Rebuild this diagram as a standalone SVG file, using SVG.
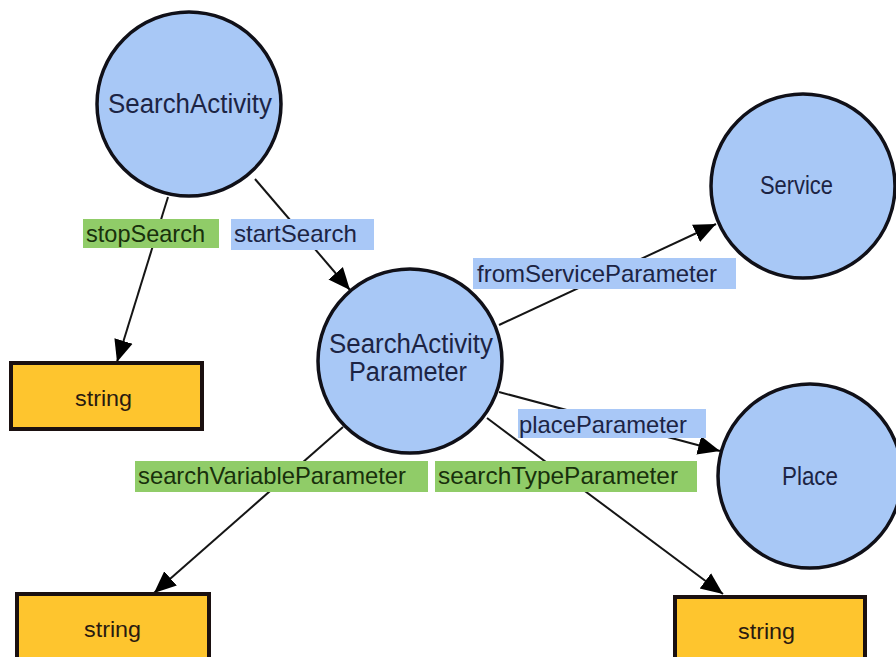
<svg xmlns="http://www.w3.org/2000/svg" width="896" height="657" viewBox="0 0 896 657">
  <style>
    .cls { fill: #a8c8f6; stroke: #101018; stroke-width: 3.5; }
    .lit { fill: #fec52e; stroke: #1a1010; stroke-width: 4; }
    .edge { stroke: #151515; stroke-width: 2; fill: none; marker-end: url(#arrow); }
    .obj { fill: #a9c8f7; }
    .dat { fill: #90cc68; }
    text { font-family: "Liberation Sans", Arial, sans-serif; }
    .ntext { font-size: 25px; fill: #1c2444; }
    .big { font-size: 27px; }
    .stext { font-size: 22px; fill: #2a1a10; }
    .otext { font-size: 24px; fill: #1c2444; }
    .dtext { font-size: 24px; fill: #18300c; }
  </style>
  <defs>
    <marker id="arrow" markerUnits="userSpaceOnUse" markerWidth="24" markerHeight="22" viewBox="0 0 24 22" refX="22" refY="11" orient="auto">
      <path d="M0,1.5 L22,11 L0,20.5 Z" fill="#000"/>
    </marker>
  </defs>
  <rect width="896" height="657" fill="#fff"/>

  <!-- property edges -->
  <g id="connectors">
    <g id="e-stopSearch">
      <line class="edge" x1="168" y1="197" x2="117" y2="362"/>
      <rect class="dat" x="83" y="219" width="136" height="29"/>
      <text class="dtext" x="86" y="242" textLength="119" lengthAdjust="spacingAndGlyphs">stopSearch</text>
    </g>
    <g id="e-startSearch">
      <line class="edge" x1="255" y1="179" x2="350" y2="290"/>
      <rect class="obj" x="231" y="219" width="143" height="31"/>
      <text class="otext" x="234" y="242" textLength="123" lengthAdjust="spacingAndGlyphs">startSearch</text>
    </g>
    <g id="e-fromServiceParameter">
      <line class="edge" x1="499" y1="325" x2="716" y2="224"/>
      <rect class="obj" x="473" y="258" width="263" height="31"/>
      <text class="otext" x="477" y="282" textLength="240" lengthAdjust="spacingAndGlyphs">fromServiceParameter</text>
    </g>
    <g id="e-placeParameter">
      <line class="edge" x1="499" y1="392" x2="720" y2="451"/>
      <rect class="obj" x="518" y="409" width="188" height="29"/>
      <text class="otext" x="519" y="433" textLength="168" lengthAdjust="spacingAndGlyphs">placeParameter</text>
    </g>
    <g id="e-searchTypeParameter">
      <line class="edge" x1="487" y1="418" x2="723" y2="594"/>
      <rect class="dat" x="435" y="461" width="262" height="31"/>
      <text class="dtext" x="438" y="484" textLength="240" lengthAdjust="spacingAndGlyphs">searchTypeParameter</text>
    </g>
    <g id="e-searchVariableParameter">
      <line class="edge" x1="343" y1="427" x2="154" y2="593"/>
      <rect class="dat" x="135" y="461" width="293" height="31"/>
      <text class="dtext" x="138" y="484" textLength="268" lengthAdjust="spacingAndGlyphs">searchVariableParameter</text>
    </g>
  </g>

  <!-- class nodes -->
  <g id="SearchActivity">
    <circle class="cls" cx="189" cy="104" r="92"/>
    <text class="ntext big" x="108" y="113" textLength="164" lengthAdjust="spacingAndGlyphs">SearchActivity</text>
  </g>
  <g id="SearchActivityParameter">
    <circle class="cls" cx="410" cy="361" r="92"/>
    <text class="ntext big" x="329" y="353" textLength="164" lengthAdjust="spacingAndGlyphs">SearchActivity</text>
    <text class="ntext big" x="349" y="381" textLength="118" lengthAdjust="spacingAndGlyphs">Parameter</text>
  </g>
  <g id="Service">
    <circle class="cls" cx="803" cy="186" r="92"/>
    <text class="ntext" x="760" y="194" textLength="73" lengthAdjust="spacingAndGlyphs">Service</text>
  </g>
  <g id="Place">
    <circle class="cls" cx="810" cy="476" r="92"/>
    <text class="ntext" x="782" y="485" textLength="56" lengthAdjust="spacingAndGlyphs">Place</text>
  </g>

  <!-- literal nodes -->
  <g id="string-stop">
    <rect class="lit" x="11" y="363" width="191" height="66"/>
    <text class="stext" x="75" y="406" textLength="57" lengthAdjust="spacingAndGlyphs">string</text>
  </g>
  <g id="string-variable">
    <rect class="lit" x="17" y="594" width="192" height="70"/>
    <text class="stext" x="84" y="637" textLength="57" lengthAdjust="spacingAndGlyphs">string</text>
  </g>
  <g id="string-type">
    <rect class="lit" x="675" y="597" width="190" height="70"/>
    <text class="stext" x="738" y="639" textLength="57" lengthAdjust="spacingAndGlyphs">string</text>
  </g>
</svg>
